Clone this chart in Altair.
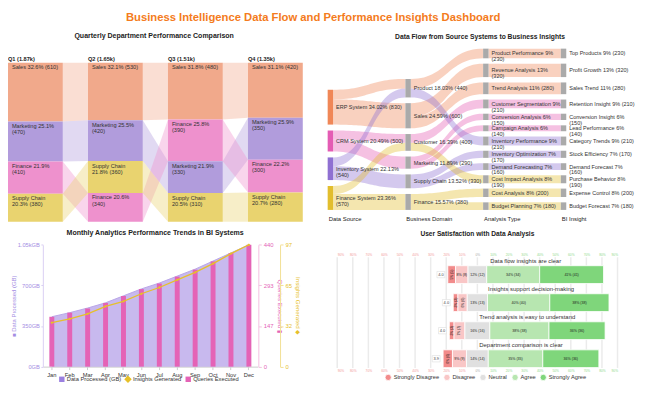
import textwrap
import numpy as np
import pandas as pd
import altair as alt

FONT = "Liberation Sans"
W, H = 642, 390
OX, OY = 8, 8


def px(v):
    return v - OX


def py(v):
    return v - OY


TXT = "#333333"

# ---------------- data: quarterly department comparison ----------------
quarters = ["Q1", "Q2", "Q3", "Q4"]
departments = ["Sales", "Marketing", "Finance", "Supply Chain"]
sales_q = [610, 530, 480, 420]
marketing_q = [470, 420, 330, 350]
finance_q = [410, 340, 390, 300]
supply_chain_q = [380, 360, 310, 280]
dept_colors = ["#f1a98b", "#b19cdc", "#ee91cd", "#e9d36f"]

# ---------------- data: sankey ----------------
src_nodes = ["ERP System", "CRM System", "Inventory System", "Finance System"]
src_colors = ["#f08757", "#e45cb4", "#8f70d2", "#e2be2e"]
dom_nodes = ["Product", "Sales", "Customer", "Marketing", "Supply Chain", "Finance"]
ana_nodes = ["Product Performance", "Revenue Analysis", "Trend Analysis", "Customer Segmentation",
             "Conversion Analysis", "Campaign Analysis", "Inventory Performance",
             "Inventory Optimization", "Demand Forecasting", "Cost Impact Analysis",
             "Cost Analysis", "Budget Planning"]
ins_nodes = ["Top Products", "Profit Growth", "Sales Trend", "Retention Insight",
             "Conversion Insight", "Lead Performance", "Category Trends", "Stock Efficiency",
             "Demand Forecast", "Purchase Behavior", "Expense Control", "Budget Forecast"]
path_src = ["ERP System", "ERP System", "ERP System", "CRM System", "CRM System", "CRM System",
            "Inventory System", "Inventory System", "Inventory System",
            "Finance System", "Finance System", "Finance System"]
path_dom = ["Product", "Sales", "Sales", "Customer", "Marketing", "Marketing",
            "Product", "Supply Chain", "Supply Chain", "Customer", "Finance", "Finance"]
path_ana = ["Product Performance", "Revenue Analysis", "Trend Analysis", "Customer Segmentation",
            "Conversion Analysis", "Campaign Analysis", "Inventory Performance",
            "Inventory Optimization", "Demand Forecasting", "Cost Impact Analysis",
            "Cost Analysis", "Budget Planning"]
path_ins = ["Top Products", "Profit Growth", "Sales Trend", "Retention Insight",
            "Conversion Insight", "Lead Performance", "Category Trends", "Stock Efficiency",
            "Demand Forecast", "Purchase Behavior", "Expense Control", "Budget Forecast"]
path_values = [230, 320, 280, 210, 150, 140, 210, 170, 160, 190, 200, 180]
column_titles = ["Data Source", "Business Domain", "Analysis Type", "BI Insight"]
wrapped_labels = {"Inventory System", "Finance System", "Product Performance", "Revenue Analysis",
                  "Customer Segmentation", "Conversion Analysis", "Campaign Analysis",
                  "Inventory Performance", "Inventory Optimization", "Demand Forecasting",
                  "Cost Impact Analysis", "Conversion Insight", "Lead Performance",
                  "Demand Forecast", "Purchase Behavior"}

# ---------------- data: monthly trends ----------------
months = ["Jan", "Feb", "Mar", "Apr", "May", "Jun", "Jul", "Aug", "Sep", "Oct", "Nov", "Dec"]
data_gb = [430, 465, 505, 550, 610, 670, 720, 780, 840, 910, 980, 1050]
queries = [180, 195, 210, 230, 255, 280, 300, 325, 350, 380, 410, 440]
insights = [35, 38, 42, 48, 52, 58, 63, 69, 75, 82, 90, 97]

# ---------------- data: likert ----------------
questions = ["Data flow insights are clear", "Insights support decision-making",
             "Trend analysis is easy to understand", "Department comparison is clear"]
levels = ["Strongly Disagree", "Disagree", "Neutral", "Agree", "Strongly Agree"]
likert_colors = ["#f28b8b", "#f9c6c6", "#e0e0e0", "#b7e6b0", "#7fd67b"]
strongly_disagree = [5, 3, 3, 6]
disagree = [8, 6, 7, 9]
neutral = [12, 13, 16, 14]
agree = [34, 40, 38, 35]
strongly_agree = [41, 38, 36, 36]

layers = []


def text_layer(txt, x, y, **kw):
    return alt.Chart(pd.DataFrame({"t": [txt]})).mark_text(**kw).encode(
        x=alt.value(px(x)), y=alt.value(py(y)), text="t:N")


layers.append(text_layer("Business Intelligence Data Flow and Performance Insights Dashboard",
                         317, 16, fontSize=11.4, fontWeight="bold", color="#f47b20",
                         align="center", baseline="middle"))

# ======================= ribbon chart =======================
R_STEP, R_BW = 81, 55.5
bw = R_BW / R_STEP
dept_vals = dict(zip(departments, [sales_q, marketing_q, finance_q, supply_chain_q]))
rect_rows, head_rows, pos = [], [], {}
for qi, q in enumerate(quarters):
    vals = {d: dept_vals[d][qi] for d in departments}
    tot = sum(vals.values())
    adj = {d: vals[d] / tot - 0.09 for d in departments}
    s = sum(adj.values())
    y = 0.0
    for d in sorted(departments, key=lambda k: -vals[k]):
        h = adj[d] / s
        lab = "\n".join(textwrap.wrap(f"{d} {vals[d] / tot * 100:.1f}% ({vals[d]})", 17))
        rect_rows.append(dict(x=qi, x2=qi + bw, y0=y, y1=y + h, dept=d, label=lab))
        pos[(qi, d)] = (y, y + h)
        y += h
    head_rows.append(dict(x=qi, label=f"{q} ({tot / 1000:.2f}k)"))
rib_rows = []
for d in departments:
    for qi in range(len(quarters) - 1):
        for xx, qq in ((qi + bw, qi), (qi + 1, qi + 1)):
            rib_rows.append(dict(rid=f"{d}-{qi}", dept=d, x=xx,
                                 top=pos[(qq, d)][0], bot=pos[(qq, d)][1]))
rect_df = pd.DataFrame(rect_rows)
rib_df = pd.DataFrame(rib_rows)
head_df = pd.DataFrame(head_rows)

rx = alt.Scale(domain=[0, 3 + bw], range=[px(8), px(8) + (3 + bw) * R_STEP], nice=False, zero=False)
ry = alt.Scale(domain=[0, 1], range=[py(61), py(222)], nice=False, zero=False)
dcol = alt.Scale(domain=departments, range=dept_colors)

layers.append(text_layer("Quarterly Department Performance Comparison", 156, 34,
                         fontSize=7.1, fontWeight="bold", color="#222", align="center",
                         baseline="middle"))
layers.append(alt.Chart(rib_df).mark_area(opacity=0.38, orient="vertical", interpolate="linear").encode(
    x=alt.X("x:Q", scale=rx, axis=None),
    y=alt.Y("top:Q", scale=ry, axis=None),
    y2="bot:Q",
    color=alt.Color("dept:N", scale=dcol, legend=None),
    detail="rid:N"))
layers.append(alt.Chart(rect_df).mark_rect().encode(
    x=alt.X("x:Q", scale=rx, axis=None), x2="x2:Q",
    y=alt.Y("y0:Q", scale=ry, axis=None), y2="y1:Q",
    color=alt.Color("dept:N", scale=dcol, legend=None)))
layers.append(alt.Chart(rect_df).mark_text(align="left", baseline="top", dx=4, dy=1.5, fontSize=5.7,
                                           lineBreak="\n", lineHeight=6.3, color=TXT).encode(
    x=alt.X("x:Q", scale=rx, axis=None), y=alt.Y("y0:Q", scale=ry, axis=None), text="label:N"))
layers.append(alt.Chart(head_df).mark_text(align="left", baseline="bottom", fontSize=5.7,
                                           fontWeight="bold", color="#222").encode(
    x=alt.X("x:Q", scale=rx, axis=None), y=alt.value(py(60)), text="label:N"))

# ======================= sankey =======================
S_STEP, NWPX = 78.7, 5.5
nw = NWPX / S_STEP
cols = [src_nodes, dom_nodes, ana_nodes, ins_nodes]
col_paths = [path_src, path_dom, path_ana, path_ins]
gaps = [141, 136, 127.5, 127.5]
total = sum(path_values)
YMAX = total + 11 * 127.5
node_pos = {}
node_rows = []
for c, names in enumerate(cols):
    vals = [sum(v for p, v in zip(col_paths[c], path_values) if p == n) for n in names]
    y = YMAX - (sum(vals) + (len(names) - 1) * gaps[c])
    for i, (n, v) in enumerate(zip(names, vals)):
        node_pos[(c, n)] = (y, y + v)
        pct = v / total * 100
        pct_s = f"{pct:.2f}" if c < 2 else f"{pct:.0f}"
        lab = f"{n} {pct_s}%\n({v})" if n in wrapped_labels else f"{n} {pct_s}% ({v})"
        fill = src_colors[i] if c == 0 else "#aaaaaa"
        node_rows.append(dict(x=c, x2=c + nw, y0=y, y1=y + v, ym=y + v / 2, label=lab, fill=fill))
        y += v + gaps[c]
node_df = pd.DataFrame(node_rows)

link_rows = []
t = np.linspace(0, 1, 30)
bx = 1.5 * t * (1 - t) + t ** 3
by = 3 * t ** 2 - 2 * t ** 3
for c in range(3):
    pairs = {}
    for i in range(len(path_values)):
        a, b = col_paths[c][i], col_paths[c + 1][i]
        color = src_colors[src_nodes.index(path_src[i])]
        if (a, b) in pairs:
            pairs[(a, b)][0] += path_values[i]
        else:
            pairs[(a, b)] = [path_values[i], color]
    out_off = {n: node_pos[(c, n)][0] for n in cols[c]}
    in_off = {n: node_pos[(c + 1, n)][0] for n in cols[c + 1]}
    s_y, t_y = {}, {}
    for (a, b) in sorted(pairs, key=lambda k: cols[c + 1].index(k[1])):
        s_y[(a, b)] = out_off[a]
        out_off[a] += pairs[(a, b)][0]
    for (a, b) in sorted(pairs, key=lambda k: cols[c].index(k[0])):
        t_y[(a, b)] = in_off[b]
        in_off[b] += pairs[(a, b)][0]
    for (a, b), (v, color) in pairs.items():
        x0, x1 = c + nw, c + 1
        y0, y1 = s_y[(a, b)], t_y[(a, b)]
        for k in range(len(t)):
            yy = y0 + (y1 - y0) * by[k]
            link_rows.append(dict(lid=f"{c}-{a}-{b}", x=x0 + (x1 - x0) * bx[k], top=yy,
                                  bot=yy + v, fill=color))
link_df = pd.DataFrame(link_rows)
colhead_df = pd.DataFrame({"x": list(range(4)), "label": column_titles})

sx = alt.Scale(domain=[0, 3 + nw], range=[px(331.7), px(331.7) + (3 + nw) * S_STEP], nice=False, zero=False)
sy = alt.Scale(domain=[0, YMAX], range=[py(46.7), py(210)], nice=False, zero=False)

layers.append(text_layer("Data Flow from Source Systems to Business Insights", 486, 35,
                         fontSize=6.8, fontWeight="bold", color="#222", align="center",
                         baseline="middle"))
layers.append(alt.Chart(link_df).mark_area(opacity=0.38, orient="vertical").encode(
    x=alt.X("x:Q", scale=sx, axis=None),
    y=alt.Y("top:Q", scale=sy, axis=None), y2="bot:Q",
    color=alt.Color("fill:N", scale=None), detail="lid:N"))
layers.append(alt.Chart(node_df).mark_rect().encode(
    x=alt.X("x:Q", scale=sx, axis=None), x2="x2:Q",
    y=alt.Y("y0:Q", scale=sy, axis=None), y2="y1:Q",
    color=alt.Color("fill:N", scale=None)))
layers.append(alt.Chart(node_df).mark_text(align="left", baseline="middle", dx=3, fontSize=5.6,
                                           lineBreak="\n", lineHeight=6, color=TXT).encode(
    x=alt.X("x2:Q", scale=sx, axis=None), y=alt.Y("ym:Q", scale=sy, axis=None), text="label:N"))
layers.append(alt.Chart(colhead_df).mark_text(align="left", baseline="middle", dx=1, fontSize=6,
                                              color="#222").encode(
    x=alt.X("x:Q", scale=sx, axis=None), y=alt.value(py(219)), text="label:N"))

# ======================= monthly combo =======================
combo = pd.DataFrame({"month": months, "gb": data_gb, "queries": queries, "insights": insights,
                      "s1": "Data Processed (GB)", "s2": "Insights Generated",
                      "s3": "Queries Executed"})
CX0, CX1, CY0, CY1 = 43.3, 261, 245.3, 368.7
x_point = alt.Scale(type="point", domain=months, range=[px(CX0), px(CX1)], padding=0.5)
x_band = alt.Scale(type="band", domain=months, range=[px(CX0), px(CX1)], paddingInner=0, paddingOuter=0)
y_gb = alt.Scale(domain=[0, 1050], range=[py(CY1), py(CY0)], nice=False, zero=True)
y_q = alt.Scale(domain=[0, 440], range=[py(CY1), py(CY0)], nice=False, zero=True)
y_i = alt.Scale(domain=[0, 97], range=[py(CY1), py(CY0)], nice=False, zero=True)
PURPLE, PINK, YELLOW = "#9b80e0", "#e463b6", "#e6c02a"


def leg(x, y, sym):
    return alt.Legend(orient="none", legendX=px(x), legendY=py(y), title=None, symbolType=sym,
                      symbolSize=30, labelFontSize=5.8, labelColor=TXT, symbolOpacity=1,
                      padding=0, labelOffset=1.5)


layers.append(text_layer("Monthly Analytics Performance Trends in BI Systems", 157, 233,
                         fontSize=7.1, fontWeight="bold", color="#222", align="center",
                         baseline="middle"))
layers.append(alt.Chart(combo).mark_area(opacity=0.55).encode(
    x=alt.X("month:N", sort=months, scale=x_point, axis=None),
    y=alt.Y("gb:Q", scale=y_gb, axis=alt.Axis(
        orient="left", offset=-px(CX0), values=[0, 350, 700, 1050],
        labelExpr="format(datum.value, '~s') + 'GB'", labelColor="#a48de3", labelFontSize=5.8,
        domainColor="#d9cef3", tickColor="#d9cef3", tickSize=2, grid=False, labelPadding=1.5,
        title="\u25a0 Data Processed (GB)", titleColor="#a48de3", titleFontSize=6,
        titleFontWeight="normal", titlePadding=1)),
    color=alt.Color("s1:N", scale=alt.Scale(domain=["Data Processed (GB)"], range=[PURPLE]),
                    legend=leg(59, 378, "square"))))
layers.append(alt.Chart(combo).mark_line(color="#b9a6e8", strokeWidth=1).encode(
    x=alt.X("month:N", sort=months, scale=x_point, axis=None),
    y=alt.Y("gb:Q", scale=y_gb, axis=None)))
layers.append(alt.Chart(combo).mark_bar(size=5).encode(
    x=alt.X("month:N", sort=months, scale=x_band, axis=alt.Axis(
        orient="bottom", offset=py(CY1) - H, labelAngle=0, labelFontSize=5.8, labelColor=TXT,
        domainColor="#cccccc", tickColor="#cccccc", tickSize=3, labelPadding=1.5, title=None)),
    y=alt.Y("queries:Q", scale=y_q, axis=alt.Axis(
        orient="right", offset=px(261.5) - W, values=[0, 440 / 3, 880 / 3, 440], format=".0f",
        labelColor=PINK, labelFontSize=6, domainColor="#f4c0e1", tickColor="#f4c0e1",
        tickSize=3, grid=False, labelPadding=2, title="Queries Executed \u25ae", titleColor=PINK,
        titleFontSize=6.2, titleFontWeight="normal", titlePadding=3)),
    color=alt.Color("s3:N", scale=alt.Scale(domain=["Queries Executed"], range=[PINK]),
                    legend=leg(187, 378, "square"))))
layers.append(alt.Chart(combo).mark_line(strokeWidth=1.3, point=alt.OverlayMarkDef(
    shape="diamond", size=8, filled=True)).encode(
    x=alt.X("month:N", sort=months, scale=x_point, axis=None),
    y=alt.Y("insights:Q", scale=y_i, axis=alt.Axis(
        orient="right", offset=px(283.5) - W, values=[0, 97 / 3, 194 / 3, 97], format=".0f",
        labelColor=YELLOW, labelFontSize=6, domainColor="#f2df93", tickColor="#f2df93",
        tickSize=3, grid=False, labelPadding=2, title="Insights Generated \u25c6", titleColor=YELLOW,
        titleFontSize=6.2, titleFontWeight="normal", titlePadding=3)),
    color=alt.Color("s2:N", scale=alt.Scale(domain=["Insights Generated"], range=[YELLOW]),
                    legend=leg(126, 378, "diamond"))))

# ======================= likert =======================
lik_rows, q_rows = [], []
for qi, q in enumerate(questions):
    vals = [strongly_disagree[qi], disagree[qi], neutral[qi], agree[qi], strongly_agree[qi]]
    n = sum(vals)
    pct = [v / n * 100 for v in vals]
    start = -(pct[0] + pct[1] + pct[2] / 2)
    x = start
    for lv, p, v in zip(levels, pct, vals):
        lik_rows.append(dict(question=q, level=lv, start=x, end=x + p, mid=x + p / 2,
                             label=f"{p:.0f}% ({v})", narrow=bool(p < 8)))
        x += p
    mean = sum((i + 1) * v for i, v in enumerate(vals)) / n
    q_rows.append(dict(question=q, start=start, center=(start + x) / 2, mean=f"{mean:.1f}"))
lik_df = pd.DataFrame(lik_rows)
q_df = pd.DataFrame(q_rows)
ticks_df = pd.DataFrame({"t": list(range(-90, 100, 10))})

L0, LPP = 483.3, 1.577
lx = alt.Scale(domain=[-90, 90], range=[px(L0 - 90 * LPP), px(L0 + 90 * LPP)], nice=False, zero=False)
ly = alt.Scale(domain=questions, range=[py(261.3), py(374.9)], paddingInner=0, paddingOuter=0)
grid_label_color = {"expr": "datum.value < 0 ? '#f29a9a' : (datum.value > 0 ? '#92d98d' : '#aaaaaa')"}

layers.append(text_layer("User Satisfaction with Data Analysis", 483.3, 234,
                         fontSize=6.7, fontWeight="bold", color="#222", align="center",
                         baseline="middle"))
layers.append(alt.Chart(ticks_df).mark_rule(color="#ebebeb", strokeWidth=1.5).encode(
    x=alt.X("t:Q", scale=lx, axis=alt.Axis(
        orient="top", offset=-py(258), values=list(range(-90, 100, 10)),
        labelExpr="abs(datum.value) + '%'", labelColor=grid_label_color, labelFontSize=3.3,
        domain=False, ticks=False, grid=False, labelPadding=1, title=None)),
    y=alt.value(py(258)), y2=alt.value(py(370))))
layers.append(alt.Chart(lik_df).mark_bar(size=18, stroke="white", strokeWidth=0.8).encode(
    x=alt.X("start:Q", scale=lx, axis=alt.Axis(
        orient="bottom", offset=py(370) - H, values=list(range(-90, 100, 10)),
        labelExpr="abs(datum.value) + '%'", labelColor=grid_label_color, labelFontSize=3.3,
        domain=False, ticks=False, grid=False, labelPadding=1, title=None)),
    x2="end:Q",
    y=alt.Y("question:N", sort=questions, scale=ly, axis=None),
    color=alt.Color("level:N", sort=levels, scale=alt.Scale(domain=levels, range=likert_colors),
                    legend=alt.Legend(orient="none", legendX=px(389), legendY=py(375.5),
                                      direction="horizontal", title=None, symbolType="circle",
                                      symbolSize=40, labelFontSize=5.8, labelColor=TXT,
                                      columnPadding=2.5, padding=0, labelOffset=1.5,
                                      symbolStrokeWidth=0.8))))
layers.append(alt.Chart(lik_df).transform_filter("!datum.narrow").mark_text(
    fontSize=3.6, color="#222", baseline="middle").encode(
    x=alt.X("mid:Q", scale=lx, axis=None),
    y=alt.Y("question:N", sort=questions, scale=ly, axis=None), text="label:N"))
layers.append(alt.Chart(lik_df).transform_filter("datum.narrow").mark_text(
    fontSize=3.4, color="#222", baseline="middle", angle=270).encode(
    x=alt.X("mid:Q", scale=lx, axis=None),
    y=alt.Y("question:N", sort=questions, scale=ly, axis=None), text="label:N"))
layers.append(alt.Chart(q_df).mark_point(
    shape="M-1,-0.8L1,-0.8L1,0.8L-1,0.8Z", size=64, filled=True, fill="white",
    stroke="#dddddd", strokeWidth=0.6, opacity=1, xOffset=-7).encode(
    x=alt.X("start:Q", scale=lx, axis=None),
    y=alt.Y("question:N", sort=questions, scale=ly, axis=None)))
layers.append(alt.Chart(q_df).mark_text(fontSize=4, color="#444", baseline="middle",
                                        align="center", dx=-7).encode(
    x=alt.X("start:Q", scale=lx, axis=None),
    y=alt.Y("question:N", sort=questions, scale=ly, axis=None), text="mean:N"))
layers.append(alt.Chart(q_df).mark_text(fontSize=6, color=TXT, baseline="middle",
                                        align="center", dy=-13.5).encode(
    x=alt.X("center:Q", scale=lx, axis=None),
    y=alt.Y("question:N", sort=questions, scale=ly, axis=None), text="question:N"))

chart = alt.layer(*layers).resolve_scale(
    x="independent", y="independent", color="independent"
).properties(
    width=W, height=H, padding=0, autosize=alt.AutoSizeParams(type="none")
).configure(font=FONT).configure_view(stroke=None)

chart.save("out.html", embed_options={"renderer": "svg", "actions": False})
